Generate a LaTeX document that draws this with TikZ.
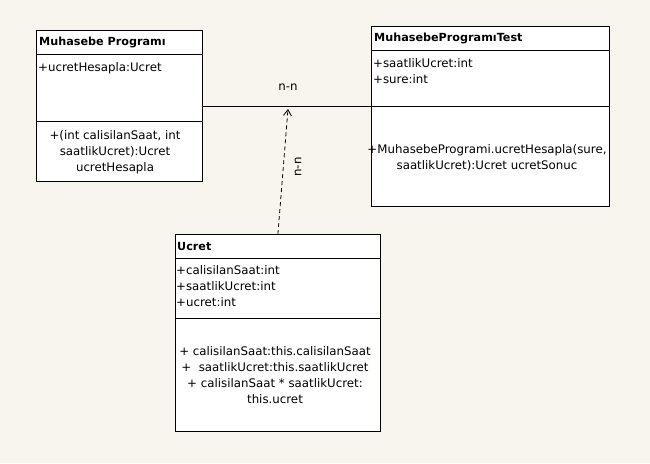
\documentclass[tikz,border=0pt]{standalone}
\usepackage{fontspec}
\setmainfont{DejaVu Sans}
\usetikzlibrary{arrows, arrows.meta}
\usetikzlibrary{calc}

\definecolor{paper}{HTML}{F8F5EE}

\tikzset{
  classbox/.style={draw, fill=white, line width=0.8pt, inner sep=0pt, anchor=north west},
  title/.style={anchor=west, inner sep=0pt, font=\fontsize{11.2}{16}\selectfont\bfseries},
  member/.style={anchor=north west, inner sep=0pt, align=left, font=\fontsize{11.8}{16}\selectfont},
  method/.style={inner sep=0pt, align=center, font=\fontsize{11.8}{16}\selectfont},
}

\begin{document}
\begin{tikzpicture}[x=1pt, y=-1pt]
      \fill[paper] (0,0) rectangle (650,463);
      \useasboundingbox (0,0) rectangle (650,463);

      % class boxes
      \node[classbox, minimum width=166pt, minimum height=151pt] (prog) at (36,30) {};
      \node[classbox, minimum width=238pt, minimum height=180pt] (test) at (371,26) {};
      \node[classbox, minimum width=205pt, minimum height=197pt] (ucret) at (175,234) {};

      \draw[line width=0.8pt] (36,54) -- (202,54);
      \draw[line width=0.8pt] (36,121) -- (202,121);
      \draw[line width=0.8pt] (371,50) -- (609,50);
      \draw[line width=0.8pt] (371,106) -- (609,106);
      \draw[line width=0.8pt] (175,258) -- (380,258);
      \draw[line width=0.8pt] (175,318) -- (380,318);

      % texts
      \node[title] (progname) at (39,42) {Muhasebe Programı};
      \node[member] (progattr) at (38,62) {+ucretHesapla:Ucret};
      \node[method] (progop) at (115,152) {+(int calisilanSaat, int\\saatlikUcret):Ucret\\ucretHesapla};

      \node[title] (testname) at (374,38) {MuhasebeProgramıTest};
      \node[member] (testattr) at (373,58) {+saatlikUcret:int\\+sure:int};
      \node[method] (testop) at (487,158) {+MuhasebeProgrami.ucretHesapla(sure,\\saatlikUcret):Ucret ucretSonuc};

      \node[title] (ucretname) at (177,246) {Ucret};
      \node[member] (ucretattr) at (176,265) {+calisilanSaat:int\\+saatlikUcret:int\\+ucret:int};
      \node[method] (ucretop) at (275,375) {+ calisilanSaat:this.calisilanSaat\\+\ \ saatlikUcret:this.saatlikUcret\\+ calisilanSaat * saatlikUcret:\\this.ucret};

      % connectors
      \coordinate (mid) at (288,109);
      \draw[line width=0.8pt] (prog.east) -- (prog.east -| test.west);
      \draw[line width=0.8pt, dash pattern=on 4pt off 3pt, -{Straight Barb[length=6pt, width=8pt]}] (ucret.north) -- (mid);

      \node[method] (assoclabel) at (288,87) {n-n};
      \node[method, rotate=90] (deplabel) at (298,167) {n-n};
\end{tikzpicture}
\end{document}
